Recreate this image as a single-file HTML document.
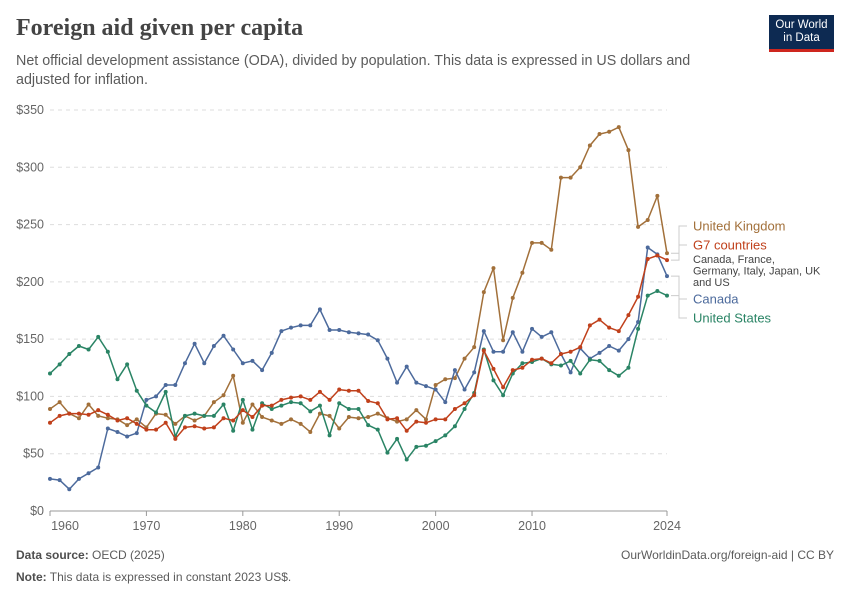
<!DOCTYPE html>
<html><head><meta charset="utf-8"><style>
body{margin:0;background:#fff;font-family:"Liberation Sans",sans-serif;}
#wrap{position:relative;width:850px;height:600px;overflow:hidden;}
.t{position:absolute;white-space:nowrap;}
</style></head><body>
<div id="wrap">
<div class="t" style="left:16px;top:15px;font-family:'Liberation Serif',serif;font-size:24px;font-weight:bold;color:#444;">Foreign aid given per capita</div>
<div class="t" style="left:16px;top:52px;font-size:14.3px;line-height:19px;color:#5b5b5b;white-space:normal;width:720px;">Net official development assistance (ODA), divided by population. This data is expressed in US dollars and adjusted for inflation.</div>
<div style="position:absolute;left:769px;top:15px;width:65px;height:37px;background:#0d2a52;border-bottom:3px solid #ce261e;box-sizing:border-box;color:#fff;font-size:11.5px;line-height:13px;text-align:center;padding-top:4px;">Our World<br>in Data</div>
<svg id="chart" width="850" height="600" style="position:absolute;left:0;top:0;"></svg>
<div class="t" style="left:16px;top:548px;font-size:12px;color:#5b5b5b;"><b style="font-weight:bold;color:#4e4e4e">Data source:</b> OECD (2025)</div>
<div class="t" style="left:16px;top:570px;font-size:12px;color:#5b5b5b;"><b style="color:#4e4e4e">Note:</b> This data is expressed in constant 2023 US$.</div>
<div class="t" style="right:16px;top:548px;font-size:12px;color:#5b5b5b;">OurWorldinData.org/foreign-aid | CC BY</div>
</div>
<script>
const startYear = 1960;
const yTicks = [0,50,100,150,200,250,300,350];
const xTickYears = [1960,1970,1980,1990,2000,2010,2024];
const canada = [28,27,19,28,33,38,72,69,65,68,97,100,110,110,129,146,129,144,153,141,129,131,123,138,157,160,162,162,176,158,158,156,155,154,149,133,112,126,112,109,106,95,123,106,121,157,139,139,156,139,159,152,156,137,121,142,133,138,144,140,150,165,230,224,205];
const g7 = [77,83,85,85,84,88,84,79,81,76,71,71,77,63,73,74,72,73,81,79,88,82,92,92,97,99,100,97,104,97,106,105,105,96,94,80,81,70,78,77,80,80,89,94,101,140,124,108,123,125,132,133,129,137,139,143,162,167,160,157,171,187,220,223,219];
const uk = [89,95,85,81,93,83,81,80,75,80,73,85,84,76,83,79,83,95,101,118,77,93,82,79,76,80,76,69,85,83,72,82,81,82,85,81,78,80,88,80,110,115,116,133,143,191,212,149,186,208,234,234,228,291,291,300,319,329,331,335,315,248,254,275,225];
const us = [120,128,137,144,141,152,139,115,128,105,92,86,104,65,83,85,83,83,93,70,97,71,94,89,92,95,94,87,92,66,94,89,89,75,71,51,63,45,56,57,61,66,74,89,103,141,114,101,120,129,130,133,128,127,131,120,132,131,123,118,125,159,188,192,188];

const svg = document.getElementById('chart');
const NS='http://www.w3.org/2000/svg';
const x0=50,x1=667,y0=511,y1=110;
function X(year){return x0+(year-1960)*(x1-x0)/64;}
function Y(v){return y0-v*(y0-y1)/350;}
function el(tag,attrs,parent){const e=document.createElementNS(NS,tag);for(const k in attrs)e.setAttribute(k,attrs[k]);(parent||svg).appendChild(e);return e;}

yTicks.forEach(v=>{
  const g=el('line',{x1:50,x2:667,y1:Y(v),y2:Y(v),stroke:v===0?'#999':'#dddddd','stroke-dasharray':v===0?'none':'4,4','stroke-width':1});
  
  
  const t=el('text',{x:44,y:Y(v)+4,'text-anchor':'end','font-size':12.5,fill:'#666','font-family':'Liberation Sans, sans-serif'});
  t.textContent='$'+v;
  
  
});
xTickYears.forEach(yr=>{
  const tk=el('line',{x1:X(yr),x2:X(yr),y1:511,y2:516,stroke:'#999'});
  
  
  const t=el('text',{x:yr===1960?X(yr)+15:X(yr),y:530,'text-anchor':'middle','font-size':12.5,fill:'#666','font-family':'Liberation Sans, sans-serif'});
  t.textContent=yr;
  
  
});

const series=[
  {name:'united-kingdom',data:uk,color:'#a2703a'},
  {name:'canada',data:canada,color:'#4c6a9c'},
  {name:'united-states',data:us,color:'#2a8465'},
  {name:'g7-countries',data:g7,color:'#c0401b'}
];
series.forEach(s=>{
  const g=el('g',{});
  
  
  const pts=s.data.map((v,i)=>X(startYear+i).toFixed(1)+','+Y(v).toFixed(1)).join(' ');
  const pl=el('polyline',{points:pts,fill:'none',stroke:s.color,'stroke-width':1.5,'stroke-linejoin':'round'},g);
  
  
  s.data.forEach((v,i)=>{
    const c=el('circle',{cx:X(startYear+i),cy:Y(v),r:2,fill:s.color},g);
    
    
  });
});

const lastX=X(2024);
const labels=[
  {text:'United Kingdom',color:'#a2703a',ly:226,v:uk[uk.length-1]},
  {text:'G7 countries',color:'#c0401b',ly:245,v:g7[g7.length-1]},
  {text:'Canada',color:'#4c6a9c',ly:299,v:canada[canada.length-1]},
  {text:'United States',color:'#2a8465',ly:318,v:us[us.length-1]}
];
labels.forEach(l=>{
  const p=el('polyline',{points:`${lastX+4},${Y(l.v)} ${lastX+12},${Y(l.v)} ${lastX+12},${l.ly} ${lastX+20},${l.ly}`,fill:'none',stroke:'#ccc','stroke-width':1});
  
  
  const t=el('text',{x:693,y:l.ly+4.5,'font-size':13,fill:l.color,'font-family':'Liberation Sans, sans-serif'});
  t.textContent=l.text;
  
  
});
['Canada, France,','Germany, Italy, Japan, UK','and US'].forEach((s,i)=>{
  const t=el('text',{x:693,y:263+i*11.5,'font-size':11,fill:'#444','font-family':'Liberation Sans, sans-serif'});
  t.textContent=s;
  
  
});
</script>
</body></html>
